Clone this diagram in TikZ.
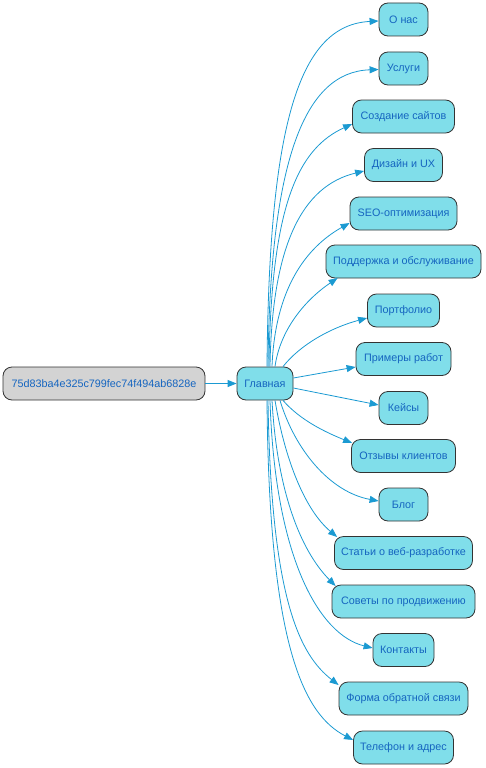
\documentclass[tikz,border=0pt]{standalone}
\usepackage{fontspec}
\setmainfont{Liberation Sans}
\usetikzlibrary{arrows.meta,calc}
\definecolor{nodefill}{HTML}{80DEEA}
\definecolor{rootfill}{HTML}{D3D3D3}
\definecolor{txt}{HTML}{1565C0}
\definecolor{edgec}{HTML}{1B9AD2}
\definecolor{bord}{HTML}{333333}
\begin{document}
\begin{tikzpicture}[x=1pt,y=-1pt,
 box/.style={draw=bord, line width=0.8pt, rounded corners=9pt, fill=nodefill, text=txt,
   minimum height=33pt, inner xsep=0pt, inner ysep=0pt, font=\fontsize{10.8}{12}\selectfont, anchor=center},
 link/.style={draw=edgec, line width=0.8pt, -{Triangle[length=9pt,width=7pt]}}]
\useasboundingbox (0,0) rectangle (486,768);
\node[box, fill=rootfill, minimum width=202pt] (root) at (104,383.5) {75d83ba4e325c799fec74f494ab6828e};
\node[box, minimum width=56pt] (g) at (265,383.5) {Главная};
\node[box, minimum width=49pt]  (c1)  at (403.5,19.5)  {О нас};
\node[box, minimum width=49pt]  (c2)  at (403.5,68.5)  {Услуги};
\node[box, minimum width=102pt] (c3)  at (403.5,116.5) {Создание сайтов};
\node[box, minimum width=78pt]  (c4)  at (403.5,165)   {Дизайн и UX};
\node[box, minimum width=107pt] (c5)  at (403.5,213.5) {SEO-оптимизация};
\node[box, minimum width=155pt] (c6)  at (403.5,261.5) {Поддержка и обслуживание};
\node[box, minimum width=72pt]  (c7)  at (403.5,310.5) {Портфолио};
\node[box, minimum width=95pt]  (c8)  at (403.5,359)   {Примеры работ};
\node[box, minimum width=49pt]  (c9)  at (403.5,408)   {Кейсы};
\node[box, minimum width=104pt] (c10) at (403.5,456)   {Отзывы клиентов};
\node[box, minimum width=49pt]  (c11) at (403.5,504.5) {Блог};
\node[box, minimum width=138pt] (c12) at (403.5,553)   {Статьи о веб-разработке};
\node[box, minimum width=143pt] (c13) at (403.5,601.5) {Советы по продвижению};
\node[box, minimum width=61pt]  (c14) at (403.5,650)   {Контакты};
\node[box, minimum width=129pt] (c15) at (403.5,698.5) {Форма обратной связи};
\node[box, minimum width=100pt] (c16) at (403.5,747.5) {Телефон и адрес};

\draw[link] (root) -- (g);
\draw[link] ($(g.north)+(2,0)$) .. controls (269,120) and (300,25) .. ($(c1.west)+(0,1.5)$);
\draw[link] ($(g.north)+(3,0)$) .. controls (270,158) and (305,72) .. ($(c2.west)+(0,1)$);
\draw[link] ($(g.north)+(4,0)$) .. controls (271,200) and (300,148) .. ($(c3.west)+(0,7.5)$);
\draw[link] ($(g.north)+(5,0)$) .. controls (272,245) and (302,186) .. ($(c4.west)+(0,6)$);
\draw[link] ($(g.north)+(7,0)$) .. controls (275,290) and (305,248) .. ($(c5.west)+(0,9.5)$);
\draw[link] ($(g.north)+(10,0)$) .. controls (280,330) and (305,300) .. ($(c6.west)+(12,16.5)$);
\draw[link] ($(g.north)+(18,0)$) .. controls (300,345) and (330,328) .. ($(c7.west)+(0,7.5)$);
\draw[link] ($(g.east)+(0,-5.5)$) -- ($(c8.west)+(0,8)$);
\draw[link] ($(g.east)+(0,4.5)$) -- ($(c9.west)+(0,-3)$);
\draw[link] ($(g.south)+(18,0)$) .. controls (300,420) and (325,432) .. ($(c10.west)+(1,-13)$);
\draw[link] ($(g.south)+(15,0)$) .. controls (295,450) and (330,492) .. ($(c11.west)+(0,-3.5)$);
\draw[link] ($(g.south)+(10,0)$) .. controls (285,460) and (305,510) .. ($(c12.west)+(3,-16)$);
\draw[link] ($(g.south)+(7,0)$) .. controls (277,490) and (300,550) .. ($(c13.west)+(4,-15.5)$);
\draw[link] ($(g.south)+(5,0)$) .. controls (275,560) and (320,635) .. ($(c14.west)+(0,-2)$);
\draw[link] ($(g.south)+(3,0)$) .. controls (271,600) and (300,655) .. ($(c15.west)+(0,-13.5)$);
\draw[link] ($(g.south)+(2,0)$) .. controls (269,650) and (305,715) .. ($(c16.west)+(0,-7.5)$);
\end{tikzpicture}
\end{document}
